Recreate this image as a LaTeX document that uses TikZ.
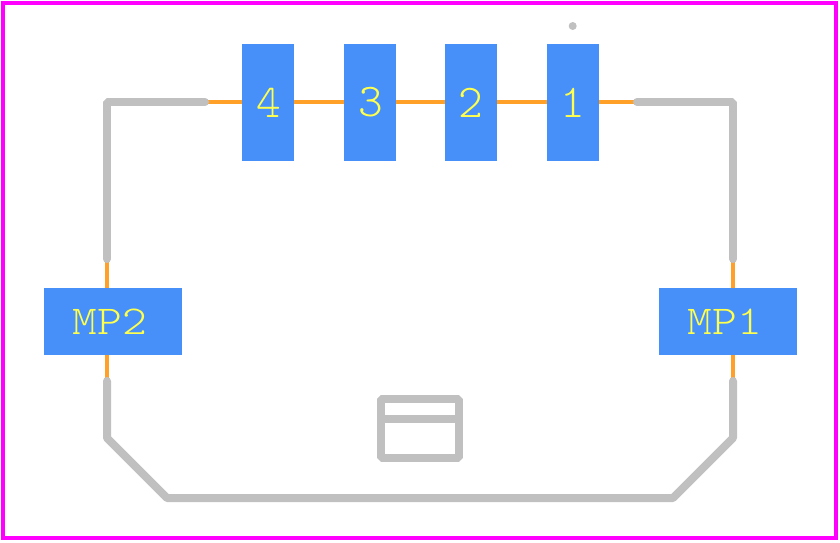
\documentclass[tikz,border=0pt]{standalone}
\usepackage{fontspec}
\setmonofont{Latin Modern Mono Light}
\usetikzlibrary{positioning,calc}
\definecolor{padblue}{RGB}{71,144,249}
\definecolor{padyellow}{RGB}{255,255,77}
\definecolor{wireorange}{RGB}{255,160,40}
\definecolor{silkgray}{RGB}{192,192,192}
\definecolor{framemagenta}{RGB}{255,0,255}
\tikzset{
  smallpad/.style={fill=padblue, text=padyellow, inner sep=0pt, minimum width=52pt, minimum height=117pt, font=\ttfamily\fontsize{47}{50}\selectfont},
  widepad/.style={fill=padblue, text=padyellow, inner sep=0pt, minimum width=138pt, minimum height=67pt, font=\ttfamily\fontsize{41}{44}\selectfont},
  wire/.style={wireorange, line width=4pt},
  silk/.style={silkgray, line width=8pt, line cap=round, line join=bevel},
  frameline/.style={framemagenta, line width=4pt}
}
\newcommand{\mplabel}[1]{\scalebox{1.15}[1]{#1}\kern6pt}

\begin{document}
\begin{tikzpicture}[x=1pt,y=-1pt]
\useasboundingbox (0,0) rectangle (840,542);

% Outline
\draw[frameline] (3,3) rectangle (836,538);

% Wires
\coordinate (wl) at (205,102);
\coordinate (wr) at (637,102);
\coordinate (vlt) at (107,259);
\coordinate (vlb) at (107,381);
\coordinate (vrt) at (733,259);
\coordinate (vrb) at (733,381);
\draw[wire] (wl) -- (wr);
\draw[wire] (vlt) -- (vlb);
\draw[wire] (vrt) -- (vrb);

% Body
\draw[silk] (wl) -- (107,102) -- (vlt);
\draw[silk] (wr) -- (733,102) -- (vrt);
\draw[silk] (vlb) -- (107,438) -- (167,498) -- (673,498) -- (733,438) -- (vrb);

% Latch
\draw[silk] (381,399) rectangle (459,458);
\draw[silk] (381,419) -- (459,419);

% Pin 1 mark
\fill[silkgray] (572.7,26) circle (4);

% Pads
\node[smallpad] (pad4) at (268,102.5) {\hspace*{2pt}4};
\node[smallpad] (pad3) at (370,102.5) {\hspace*{2pt}3};
\node[smallpad] (pad2) at (471,102.5) {2};
\node[smallpad] (pad1) at (573,102.5) {1};
\node[widepad] (mp2) at (113,321.5) {\mplabel{MP2}};
\node[widepad] (mp1) at (728,321.5) {\mplabel{MP1}};
\end{tikzpicture}
\end{document}
